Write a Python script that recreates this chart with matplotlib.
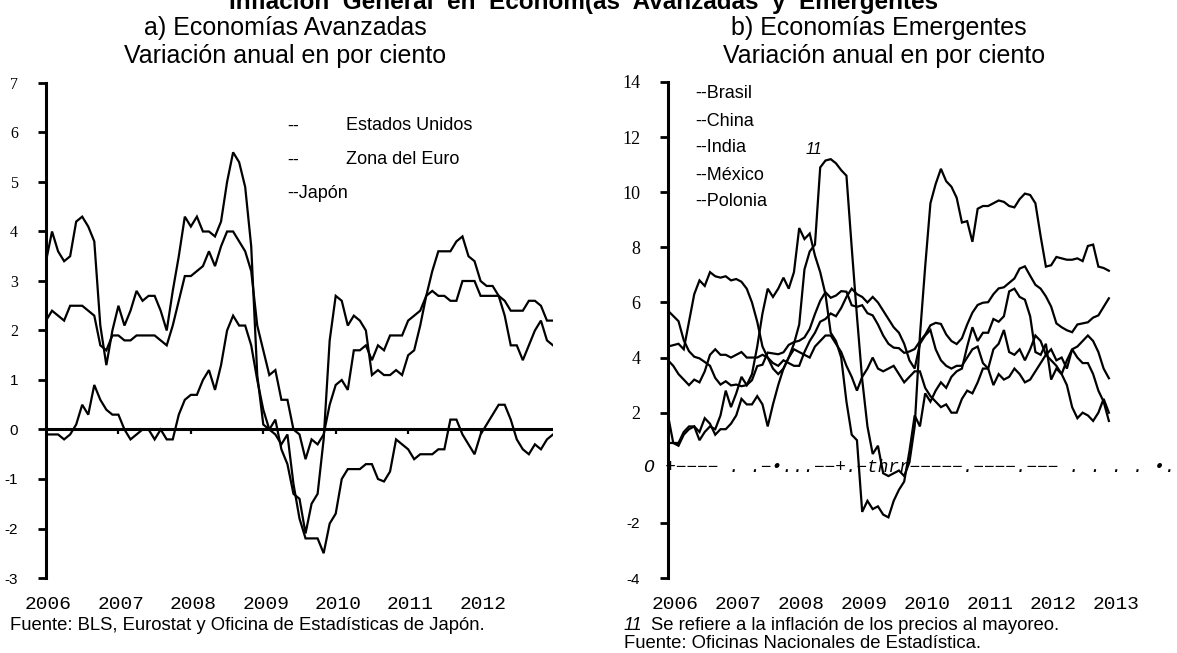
import matplotlib
matplotlib.use("Agg")
import matplotlib.pyplot as plt

# ---------------- data ----------------
years = ["2006", "2007", "2008", "2009", "2010", "2011", "2012"]
years_r = ["2006", "2007", "2008", "2009", "2010", "2011", "2012", "2013"]

# a) advanced economies, monthly, Dec-2005 .. Dec-2012
us = [3.4,
      4.0, 3.6, 3.4, 3.5, 4.2, 4.3, 4.1, 3.8, 2.1, 1.3, 2.0, 2.5,
      2.1, 2.4, 2.8, 2.6, 2.7, 2.7, 2.4, 2.0, 2.8, 3.5, 4.3, 4.1,
      4.3, 4.0, 4.0, 3.9, 4.2, 5.0, 5.6, 5.4, 4.9, 3.7, 1.1, 0.1,
      0.0, 0.2, -0.4, -0.7, -1.3, -1.4, -2.1, -1.5, -1.3, -0.2, 1.8, 2.7,
      2.6, 2.1, 2.3, 2.2, 2.0, 1.1, 1.2, 1.1, 1.1, 1.2, 1.1, 1.5,
      1.6, 2.1, 2.7, 3.2, 3.6, 3.6, 3.6, 3.8, 3.9, 3.5, 3.4, 3.0,
      2.9, 2.9, 2.7, 2.3, 1.7, 1.7, 1.4, 1.7, 2.0, 2.2, 1.8, 1.7]
euro = [2.2,
        2.4, 2.3, 2.2, 2.5, 2.5, 2.5, 2.4, 2.3, 1.7, 1.6, 1.9, 1.9,
        1.8, 1.8, 1.9, 1.9, 1.9, 1.9, 1.8, 1.7, 2.1, 2.6, 3.1, 3.1,
        3.2, 3.3, 3.6, 3.3, 3.7, 4.0, 4.0, 3.8, 3.6, 3.2, 2.1, 1.6,
        1.1, 1.2, 0.6, 0.6, 0.0, -0.1, -0.6, -0.2, -0.3, -0.1, 0.5, 0.9,
        1.0, 0.8, 1.6, 1.6, 1.7, 1.4, 1.7, 1.6, 1.9, 1.9, 1.9, 2.2,
        2.3, 2.4, 2.7, 2.8, 2.7, 2.7, 2.6, 2.6, 3.0, 3.0, 3.0, 2.7,
        2.7, 2.7, 2.7, 2.6, 2.4, 2.4, 2.4, 2.6, 2.6, 2.5, 2.2, 2.2]
japon = [-0.1,
         -0.1, -0.1, -0.2, -0.1, 0.1, 0.5, 0.3, 0.9, 0.6, 0.4, 0.3, 0.3,
         0.0, -0.2, -0.1, 0.0, 0.0, -0.2, 0.0, -0.2, -0.2, 0.3, 0.6, 0.7,
         0.7, 1.0, 1.2, 0.8, 1.3, 2.0, 2.3, 2.1, 2.1, 1.7, 1.0, 0.4,
         0.0, -0.1, -0.3, -0.1, -1.1, -1.8, -2.2, -2.2, -2.2, -2.5, -1.9, -1.7,
         -1.0, -0.8, -0.8, -0.8, -0.7, -0.7, -1.0, -1.05, -0.85, -0.2, -0.3, -0.4,
         -0.6, -0.5, -0.5, -0.5, -0.4, -0.4, 0.2, 0.2, -0.1, -0.3, -0.5, -0.1,
         0.1, 0.3, 0.5, 0.5, 0.2, -0.2, -0.4, -0.5, -0.3, -0.4, -0.2, -0.1]

# b) emerging economies, monthly, Jan-2006 .. Jan-2013
brasil = [5.70, 5.51, 5.32, 4.63, 4.23, 4.03, 3.97, 3.84, 3.70, 3.26, 3.02, 3.14,
          2.99, 3.02, 2.96, 3.00, 3.18, 3.69, 3.74, 4.18, 4.15, 4.12, 4.19, 4.46,
          4.56, 4.61, 4.73, 5.04, 5.58, 6.06, 6.37, 6.17, 6.25, 6.41, 6.39, 5.90,
          5.84, 5.90, 5.61, 5.53, 5.20, 4.80, 4.50, 4.36, 4.34, 4.17, 4.22, 4.31,
          4.59, 4.83, 5.17, 5.26, 5.22, 4.84, 4.60, 4.49, 4.70, 5.20, 5.63, 5.91,
          5.99, 6.01, 6.30, 6.51, 6.55, 6.71, 6.87, 7.23, 7.31, 6.97, 6.64, 6.50,
          6.22, 5.85, 5.24, 5.10, 4.99, 4.92, 5.20, 5.24, 5.28, 5.45, 5.53, 5.84,
          6.15]
china = [1.9, 0.9, 0.8, 1.2, 1.4, 1.5, 1.0, 1.3, 1.5, 1.4, 1.9, 2.8,
         2.2, 2.7, 3.3, 3.0, 3.4, 4.4, 5.6, 6.5, 6.2, 6.5, 6.9, 6.5,
         7.1, 8.7, 8.3, 8.5, 7.7, 7.1, 6.3, 4.9, 4.6, 4.0, 2.4, 1.2,
         1.0, -1.6, -1.2, -1.5, -1.4, -1.7, -1.8, -1.2, -0.8, -0.5, 0.6, 1.9,
         1.5, 2.7, 2.4, 2.8, 3.1, 2.9, 3.3, 3.5, 3.6, 4.4, 5.1, 4.6,
         4.9, 4.9, 5.4, 5.3, 5.5, 6.4, 6.5, 6.2, 6.1, 5.5, 4.2, 4.1,
         4.5, 3.2, 3.6, 3.4, 3.0, 2.2, 1.8, 2.0, 1.9, 1.7, 2.0, 2.5,
         2.0]
india = [4.4, 4.45, 4.5, 4.3, 5.3, 6.3, 6.8, 6.6, 7.1, 6.95, 6.9, 6.95,
         6.8, 6.85, 6.75, 6.5, 6.0, 5.3, 4.4, 4.0, 3.6, 3.4, 3.6, 4.0,
         4.5, 5.2, 7.2, 7.85, 8.1, 10.9, 11.15, 11.2, 11.05, 10.8, 10.6, 8.0,
         5.5, 3.2, 1.5, 0.5, 0.8, -0.2, -0.3, -0.2, -0.1, -0.3, 0.2, 1.5,
         4.8, 7.3, 9.6, 10.3, 10.85, 10.4, 10.2, 9.8, 8.9, 8.95, 8.2, 9.4,
         9.5, 9.5, 9.6, 9.7, 9.65, 9.5, 9.45, 9.75, 9.95, 9.9, 9.6, 8.4,
         7.3, 7.35, 7.65, 7.6, 7.55, 7.55, 7.6, 7.5, 8.05, 8.1, 7.3, 7.25,
         7.15]
mexico = [3.9, 3.7, 3.4, 3.2, 3.0, 3.2, 3.1, 3.5, 4.1, 4.3, 4.1, 4.1,
          4.0, 4.1, 4.2, 4.0, 4.0, 4.0, 4.1, 4.0, 3.8, 3.7, 3.9, 3.8,
          3.7, 3.7, 4.2, 4.6, 4.9, 5.3, 5.4, 5.6, 5.5, 5.8, 6.2, 6.5,
          6.3, 6.2, 6.0, 6.2, 6.0, 5.7, 5.4, 5.1, 4.9, 4.5, 3.9, 3.6,
          4.5, 4.8, 5.0, 4.3, 3.9, 3.7, 3.6, 3.7, 3.7, 4.0, 4.3, 4.4,
          3.8, 3.6, 3.0, 3.4, 3.2, 3.3, 3.6, 3.4, 3.1, 3.2, 3.5, 3.8,
          4.1, 3.9, 3.7, 3.4, 3.9, 4.3, 4.4, 4.6, 4.8, 4.6, 4.2, 3.6,
          3.25]
polonia = [0.9, 0.9, 0.9, 1.3, 1.5, 1.5, 1.3, 1.8, 1.6, 1.2, 1.4, 1.4,
           1.6, 1.9, 2.5, 2.3, 2.3, 2.6, 2.3, 1.5, 2.3, 3.0, 3.6, 4.0,
           4.3, 4.2, 4.1, 4.0, 4.4, 4.6, 4.8, 4.8, 4.5, 4.2, 3.7, 3.3,
           2.8, 3.3, 3.6, 4.0, 3.6, 3.5, 3.6, 3.7, 3.4, 3.1, 3.3, 3.5,
           3.5, 2.9, 2.6, 2.4, 2.2, 2.3, 2.0, 2.0, 2.5, 2.8, 2.7, 3.1,
           3.6, 3.6, 4.3, 4.5, 5.0, 4.2, 4.1, 4.3, 3.9, 4.3, 4.8, 4.6,
           4.1, 4.3, 3.9, 4.0, 3.6, 4.3, 4.0, 3.8, 3.8, 3.4, 2.8, 2.4,
           1.7]

ticks_left = [7, 6, 5, 4, 3, 2, 1, 0, -1, -2, -3]
ticks_right = [14, 12, 10, 8, 6, 4, 2, -2, -4]
legend_left = ["Estados Unidos", "Zona del Euro", "Japón"]
legend_right = ["Brasil", "China", "India", "México", "Polonia"]

# ---------------- figure ----------------
W, H = 1177, 653
fig = plt.figure(figsize=(W / 100, H / 100), dpi=100)
fig.patch.set_facecolor("white")

SANS = "Liberation Sans"
SERIF = "Liberation Serif"
MONO = "Liberation Mono"


def fx(x):
    return x / W


def fy(y):
    return 1 - y / H


def make_axes(x0, x1, ytop, ybot):
    ax = fig.add_axes([fx(x0), fy(ybot), fx(x1) - fx(x0), fy(ytop) - fy(ybot)])
    for s in ("top", "right", "bottom"):
        ax.spines[s].set_visible(False)
    ax.spines["left"].set_linewidth(2.2)
    ax.patch.set_alpha(0)
    ax.tick_params(axis="y", direction="out", length=6, width=2, pad=14)
    ax.tick_params(axis="x", length=0, pad=13)
    return ax


# ---- left panel ----
axL = make_axes(46, 553, 83, 578)
xl = list(range(len(us)))
for s in (us, euro, japon):
    axL.plot(xl, s, color="black", lw=1.6, solid_joinstyle="miter")
axL.set_xlim(0, 84)
axL.set_ylim(-3, 7)
axL.axhline(0, color="black", lw=2.2)
axL.vlines([12 * k for k in range(1, 7)], -0.09, 0, color="black", lw=1.6)
axL.set_yticks(ticks_left)
axL.set_yticklabels([str(v) for v in ticks_left])
for lbl, v in zip(axL.get_yticklabels(), ticks_left):
    lbl.set_family(SERIF if v >= 2 else SANS)
    lbl.set_fontsize(11.5 if v >= 2 else 11)
axL.set_xticks([12 * k + 0.4 for k in range(len(years))])
axL.set_xticklabels(years, family=MONO, fontsize=14)

# ---- right panel ----
axR = make_axes(668, 1122, 82, 578)
xr = list(range(len(brasil)))
for s in (brasil, china, india, mexico, polonia):
    axR.plot(xr, s, color="black", lw=1.6, solid_joinstyle="miter")
axR.set_xlim(0, 86.5)
axR.set_ylim(-4, 14)
axR.set_yticks(ticks_right)
axR.set_yticklabels([str(v) for v in ticks_right])
for lbl, v in zip(axR.get_yticklabels(), ticks_right):
    lbl.set_family(SERIF if v > 0 else SANS)
    lbl.set_fontsize(13 if v > 0 else 11)
axR.set_xticks([12 * k + 1.4 for k in range(len(years_r))])
axR.set_xticklabels(years_r, family=MONO, fontsize=14)

# garbled zero line of the scanned original (text as in the source)
fig.text(fx(644), fy(468), "O +−−−− . .−•...−−+.−thrr−−−−−.−−−−.−−− . . . . •.",
         family=MONO, style="italic", fontsize=12.8, va="center", ha="left")

# ---------------- texts ----------------
fig.text(fx(584), fy(9), "Inflación  General  en  Econom(as  Avanzadas  y  Emergentes",
         family=SANS, weight="bold", fontsize=17.5, ha="center", va="baseline")
fig.text(fx(285), fy(35), "a) Economías Avanzadas", family=SANS, fontsize=18,
         ha="center", va="baseline")
fig.text(fx(285), fy(63), "Variación anual en por ciento", family=SANS, fontsize=18,
         ha="center", va="baseline")
fig.text(fx(879), fy(35), "b) Economías Emergentes", family=SANS, fontsize=18,
         ha="center", va="baseline")
fig.text(fx(884), fy(63), "Variación anual en por ciento", family=SANS, fontsize=18,
         ha="center", va="baseline")

# left legend
fig.text(fx(287), fy(126), "--", family=SANS, fontsize=13, va="center")
fig.text(fx(346), fy(126), legend_left[0], family=SANS, fontsize=13, va="center")
fig.text(fx(287), fy(160), "--", family=SANS, fontsize=13, va="center")
fig.text(fx(346), fy(160), legend_left[1], family=SANS, fontsize=13, va="center")
fig.text(fx(287), fy(193), "--" + legend_left[2], family=SANS, fontsize=13, va="center")

# right legend
for k, name in enumerate(legend_right):
    fig.text(fx(695), fy(94 + 27 * k), "--" + name, family=SANS, fontsize=13, va="center")
fig.text(fx(806), fy(149), "11", family=SANS, style="italic", fontsize=11.5, va="center")

# footers
fig.text(fx(10), fy(625), "Fuente: BLS, Eurostat y Oficina de Estadísticas de Japón.",
         family=SANS, fontsize=13.3, va="center")
fig.text(fx(624), fy(625), "11", family=SANS, style="italic", fontsize=13, va="center")
fig.text(fx(651), fy(625), "Se refiere a la inflación de los precios al mayoreo.",
         family=SANS, fontsize=13.3, va="center")
fig.text(fx(624), fy(643), "Fuente: Oficinas Nacionales de Estadística.",
         family=SANS, fontsize=13.3, va="center")

fig.savefig("out.png", dpi=100, facecolor="white")
